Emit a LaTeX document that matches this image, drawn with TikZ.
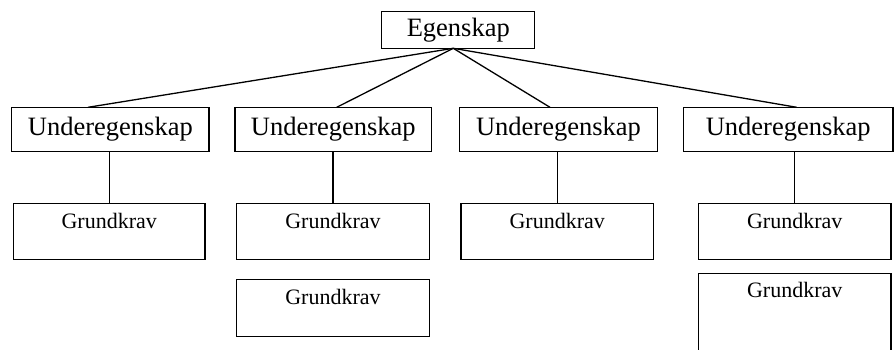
\documentclass[tikz,border=0pt]{standalone}
\usepackage{fontspec}
\setmainfont{Liberation Serif}
\begin{document}
\begin{tikzpicture}[x=1pt,y=-1pt,
  box/.style={draw,line width=1.3pt,rectangle,inner sep=0pt},
  bigtxt/.style={font=\fontsize{26.5}{30}\selectfont},
  gk/.style={box,label={[anchor=north,inner sep=0pt,yshift=#1,font=\fontsize{22}{26}\selectfont]north:Grundkrav}},
  gk/.default=-10.5pt,
  conn/.style={line width=1.3pt}]
\useasboundingbox (0,0) rectangle (895,349);
\begin{scope}
\clip (0,0) rectangle (895,349);
\node[box,bigtxt,minimum width=153pt,minimum height=36.6pt] (E) at (458.3,30) {Egenskap};
\node[box,bigtxt,minimum width=197.3pt,minimum height=44pt] (U1) at (110.4,129.3) {Underegenskap};
\node[box,bigtxt,minimum width=196.7pt,minimum height=44pt] (U2) at (333.3,129.3) {Underegenskap};
\node[box,bigtxt,minimum width=198.4pt,minimum height=44pt] (U3) at (558.5,129.3) {Underegenskap};
\node[box,bigtxt,minimum width=209.7pt,minimum height=44pt] (U4) at (788.2,129.3) {Underegenskap};
\node[gk,minimum width=191.7pt,minimum height=56pt] (G1) at (109.2,231.3) {};
\node[gk,minimum width=192.6pt,minimum height=56pt] (G2a) at (333,231.3) {};
\node[gk,minimum width=192.6pt,minimum height=57.4pt] (G2b) at (333,308) {};
\node[gk,minimum width=192.3pt,minimum height=56pt] (G3) at (557.2,231.3) {};
\node[gk,minimum width=192.7pt,minimum height=56pt] (G4a) at (794.7,231.3) {};
\node[gk=-9pt,minimum width=192.7pt,minimum height=90pt] (G4b) at (794.7,318.3) {};
\end{scope}
\coordinate (hub) at (453.3,48.3);
\coordinate (t1) at (88,107.3);
\coordinate (t2) at (336.7,107.3);
\coordinate (t3) at (550,107.3);
\coordinate (t4) at (796.7,107.3);
\draw[conn] (hub) -- (t1);
\draw[conn] (hub) -- (t2);
\draw[conn] (hub) -- (t3);
\draw[conn] (hub) -- (t4);
\draw[conn] (G1.north) -- (G1.north |- U1.south);
\draw[conn] (G2a.north) -- (G2a.north |- U2.south);
\draw[conn] (G3.north) -- (G3.north |- U3.south);
\draw[conn] (G4a.north) -- (G4a.north |- U4.south);
\end{tikzpicture}
\end{document}
